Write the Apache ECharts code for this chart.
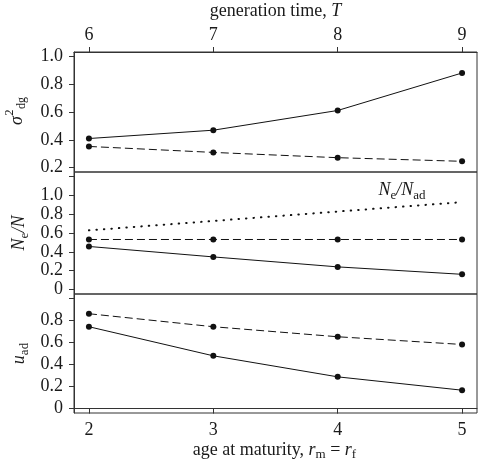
<!DOCTYPE html>
<html>
<head>
<meta charset="utf-8">
<script src="https://cdn.jsdelivr.net/npm/echarts@6/dist/echarts.min.js"></script>
<style>
html,body{margin:0;padding:0;background:#fff;}
#c{width:479px;height:471px;}
</style>
</head>
<body>
<div id="c"></div>
<script>
// ---- data ----
const xVals = [2, 3, 4, 5];
const topTickLabels = ['6', '7', '8', '9'];
const bottomTickLabels = ['2', '3', '4', '5'];
const sigmaSolid = [0.409, 0.469, 0.611, 0.881];
const sigmaDashed = [0.352, 0.309, 0.271, 0.245];
const neSolid = [0.457, 0.346, 0.240, 0.161];
const neDashed = [0.531, 0.531, 0.531, 0.531];
const neNad = [0.628, 0.728, 0.828, 0.928];
const uSolid = [0.743, 0.479, 0.288, 0.167];
const uDashed = [0.861, 0.743, 0.652, 0.582];
const yTicks1 = [0.2, 0.4, 0.6, 0.8, 1.0];
const yLabels1 = [0.2, 0.4, 0.6, 0.8, 1.0];
const yTicks2 = [0, 0.2, 0.4, 0.6, 0.8, 1.0, 1.2];
const yLabels2 = [0, 0.2, 0.4, 0.6, 0.8, 1.0];
const yTicks3 = [0, 0.2, 0.4, 0.6, 0.8, 1.0];
const yLabels3 = [0, 0.2, 0.4, 0.6, 0.8];

const FONT = '"Liberation Serif", "DejaVu Serif", serif';
const TXT = '#1a1a1a';
const LINE = '#333';
const MARK = '#111';

const chart = echarts.init(document.getElementById('c'));
const cv = document.createElement('canvas').getContext('2d');

function mathText(parts, ax, ay, rotate) {
  let x = 0, lastStart = 0;
  const items = [];
  parts.forEach(p => {
    const fs = p.fs || 18;
    const font = (p.it ? 'italic ' : '') + fs + 'px ' + FONT;
    cv.font = font;
    const w = cv.measureText(p.t).width;
    const start = (p.stack ? lastStart : x) + (p.gap || 0);
    lastStart = start;
    items.push({ t: p.t, font: font, fs: fs, x: start, dy: p.dy || 0 });
    x = Math.max(x, start + w);
  });
  const off = -x / 2;
  return {
    type: 'group', x: ax, y: ay, rotation: rotate ? Math.PI / 2 : 0,
    children: items.map(it => ({
      type: 'text', x: it.x + off, y: it.dy - 0.305 * it.fs,
      style: { text: it.t, font: it.font, fill: TXT, verticalAlign: 'middle', align: 'left' }
    }))
  };
}

function pts(arr) { return xVals.map((x, i) => [x, arr[i]]); }
function fmtY(v) { return Math.abs(v) < 1e-9 ? '0' : v.toFixed(1); }

const grids = [
  { left: 74, width: 403, top: 52, height: 120 },
  { left: 74, width: 403, top: 172, height: 122 },
  { left: 74, width: 403, top: 294, height: 119 }
].map(g => Object.assign(g, { show: true, borderColor: LINE, borderWidth: 1, backgroundColor: 'transparent' }));

const axLine = { show: true, lineStyle: { color: LINE, width: 1 } };
const lab = { fontFamily: FONT, fontSize: 18, color: TXT };

function xAxis(idx, pos, labels) {
  return {
    type: 'value', gridIndex: idx, position: pos, min: 1.88, max: 5.12,
    axisLine: labels ? axLine : { show: false },
    axisTick: labels ? { show: true, customValues: xVals, length: 5, lineStyle: { color: LINE } } : { show: false },
    axisLabel: labels ? Object.assign({ show: true, customValues: xVals, margin: 8,
      formatter: v => labels[xVals.indexOf(Math.round(v))] }, lab) : { show: false },
    splitLine: { show: false }
  };
}
function yAxis(idx, min, max, ticks, labels) {
  return {
    type: 'value', gridIndex: idx, min: min, max: max,
    axisLine: axLine,
    axisTick: { show: true, customValues: ticks, length: 5, lineStyle: { color: LINE } },
    axisLabel: Object.assign({ show: true, customValues: labels, margin: 11, formatter: fmtY }, lab),
    splitLine: { show: false }
  };
}

function line(xi, data, type, withSym) {
  return {
    type: 'line', xAxisIndex: xi, yAxisIndex: xi, data: pts(data),
    symbol: withSym ? 'circle' : 'none', symbolSize: 6, showSymbol: withSym,
    itemStyle: { color: MARK, borderWidth: 0 },
    lineStyle: type === 'dot'
      ? { color: MARK, width: 2, type: [0.5, 7], cap: 'round' }
      : { color: MARK, width: 1, type: type === 'dash' ? [8, 4] : 'solid' },
    animation: false, silent: true
  };
}

const option = {
  animation: false,
  backgroundColor: '#fff',
  grid: grids,
  xAxis: [xAxis(0, 'top', topTickLabels), xAxis(1, 'bottom', null), xAxis(2, 'bottom', bottomTickLabels)],
  yAxis: [yAxis(0, 0.168, 1.032, yTicks1, yLabels1), yAxis(1, -0.048, 1.248, yTicks2, yLabels2), yAxis(2, -0.04, 1.04, yTicks3, yLabels3)],
  series: [
    line(0, sigmaSolid, 'solid', true),
    line(0, sigmaDashed, 'dash', true),
    line(1, neNad, 'dot', false),
    line(1, neDashed, 'dash', true),
    line(1, neSolid, 'solid', true),
    line(2, uDashed, 'dash', true),
    line(2, uSolid, 'solid', true)
  ],
  graphic: [
    mathText([{ t: 'generation time, ' }, { t: 'T', it: true }], 275.5, 16.5, false),
    mathText([{ t: 'age at maturity, ' }, { t: 'r', it: true }, { t: 'm', fs: 13, dy: 3 },
      { t: ' = ' }, { t: 'r', it: true }, { t: 'f', fs: 13, dy: 3 }], 274.5, 455.5, false),
    mathText([{ t: 'σ', it: true }, { t: '2', fs: 12, dy: -9, gap: 0.5 }, { t: 'dg', fs: 12, dy: 3, gap: 0.5 }], 23, 111, true),
    mathText([{ t: 'N', it: true }, { t: 'e', fs: 13, dy: 4 }, { t: '/N', it: true }], 25, 233, true),
    mathText([{ t: 'u', it: true }, { t: 'ad', fs: 13, dy: 4 }], 25, 353.5, true),
    mathText([{ t: 'N', it: true }, { t: 'e', fs: 13, dy: 4 }, { t: '/N', it: true }, { t: 'ad', fs: 13, dy: 4 }], 402, 195.7, false)
  ]
};
chart.setOption(option);
</script>
</body>
</html>
